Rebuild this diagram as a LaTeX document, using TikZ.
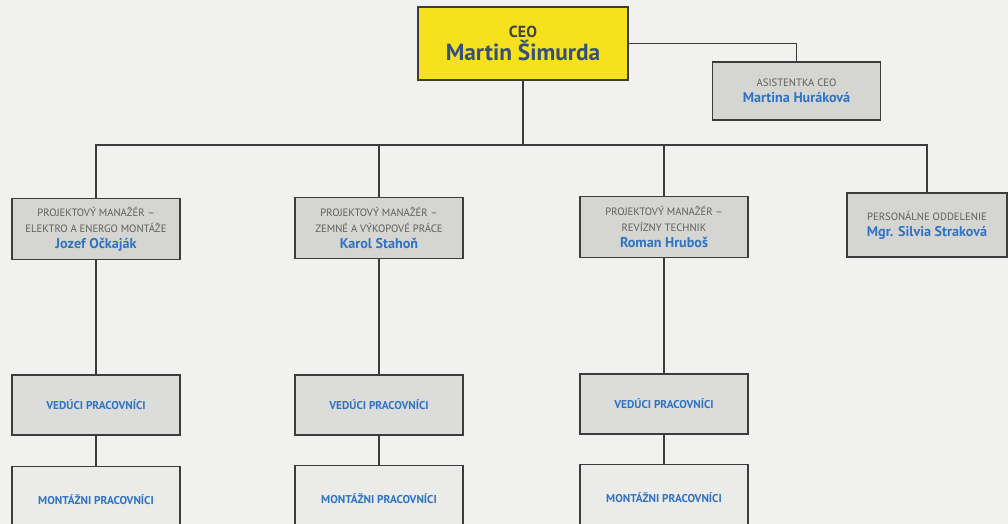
\documentclass[tikz,border=0pt]{standalone}
\usepackage{fontspec}
\setmainfont{PT Sans}
\definecolor{pagebg}{HTML}{F1F1EF}
\definecolor{ceoyellow}{HTML}{F6E21C}
\definecolor{boxgray}{HTML}{D5D5D1}
\definecolor{leadgray}{HTML}{DCDCDB}
\definecolor{workgray}{HTML}{EBEBEA}
\definecolor{namblue}{HTML}{2F73C6}
\definecolor{ceoblue}{HTML}{34507F}
\definecolor{capgray}{HTML}{5E5E5C}
\definecolor{linegray}{HTML}{3C3C3C}
\tikzset{
  orgbox/.style={draw=linegray,line width=1.1pt,align=center,inner sep=2pt},
  ceobox/.style={orgbox,fill=ceoyellow,minimum width=157.5pt,minimum height=54.75pt},
  mgrbox/.style={orgbox,fill=boxgray,minimum width=126pt,minimum height=46pt},
  leadbox/.style={orgbox,fill=leadgray,minimum width=126pt,minimum height=45pt},
  workbox/.style={orgbox,fill=workgray,minimum width=126pt,minimum height=50pt},
  link/.style={draw=linegray,line width=1.1pt}
}
\newcommand{\captxt}[1]{{\fontsize{8}{11.5}\selectfont\color{capgray}#1}}
\newcommand{\nametxt}[1]{{\fontsize{10.6}{13}\selectfont\bfseries\color{namblue}#1}}
\newcommand{\unittxt}[1]{{\fontsize{8.5}{10}\selectfont\bfseries\color{namblue}#1}}
\begin{document}
\begin{tikzpicture}[x=0.75pt,y=-0.75pt]
\useasboundingbox (0,0) rectangle (1008,524);
\clip (0,0) rectangle (1008,524);
\fill[pagebg] (0,0) rectangle (1008,524);

\node[ceobox] (ceo) at (523,43.5)
  {{\fontsize{12}{13}\selectfont\bfseries\color{capgray!70!black}CEO}\\[1pt]
   {\fontsize{17.5}{19}\selectfont\bfseries\color{ceoblue}Martin Šimurda}};
\node[mgrbox,minimum height=43.5pt] (asist) at (796.5,91)
  {\captxt{ASISTENTKA CEO}\\ \nametxt{Martina Huráková}};

\node[mgrbox] (pm1) at (96,229)
  {\captxt{PROJEKTOVÝ MANAŽÉR –}\\ \captxt{ELEKTRO A ENERGO MONTÁŽE}\\ \nametxt{Jozef Očkaják}};
\node[mgrbox] (pm2) at (379,228)
  {\captxt{PROJEKTOVÝ MANAŽÉR –}\\ \captxt{ZEMNÉ A VÝKOPOVÉ PRÁCE}\\ \nametxt{Karol Stahoň}};
\node[mgrbox] (pm3) at (664,227)
  {\captxt{PROJEKTOVÝ MANAŽÉR –}\\ \captxt{REVÍZNY TECHNIK}\\ \nametxt{Roman Hruboš}};
\node[mgrbox,minimum width=120pt,minimum height=48pt] (hr) at (927,225)
  {\captxt{PERSONÁLNE ODDELENIE}\\ \nametxt{Mgr. Silvia Straková}};

\node[leadbox] (lead1) at (96,405) {\unittxt{VEDÚCI PRACOVNÍCI}};
\node[leadbox] (lead2) at (379,405) {\unittxt{VEDÚCI PRACOVNÍCI}};
\node[leadbox] (lead3) at (664,404) {\unittxt{VEDÚCI PRACOVNÍCI}};

\node[workbox] (work1) at (96,500) {\unittxt{MONTÁŽNI PRACOVNÍCI}};
\node[workbox] (work2) at (379,499) {\unittxt{MONTÁŽNI PRACOVNÍCI}};
\node[workbox] (work3) at (664,498) {\unittxt{MONTÁŽNI PRACOVNÍCI}};

\coordinate (bus) at (523,145);
\path[link] (ceo.east) -| (asist.north);
\path[link] (ceo.south) -- (bus);
\path[link] (pm1.north) |- (bus) -| (hr.north);
\path[link] (pm2.north) -- (pm2.north |- bus);
\path[link] (pm3.north) -- (pm3.north |- bus);
\foreach \i in {1,2,3}{
  \path[link] (pm\i.south) -- (lead\i.north);
  \path[link] (lead\i.south) -- (work\i.north);
}
\end{tikzpicture}
\end{document}
